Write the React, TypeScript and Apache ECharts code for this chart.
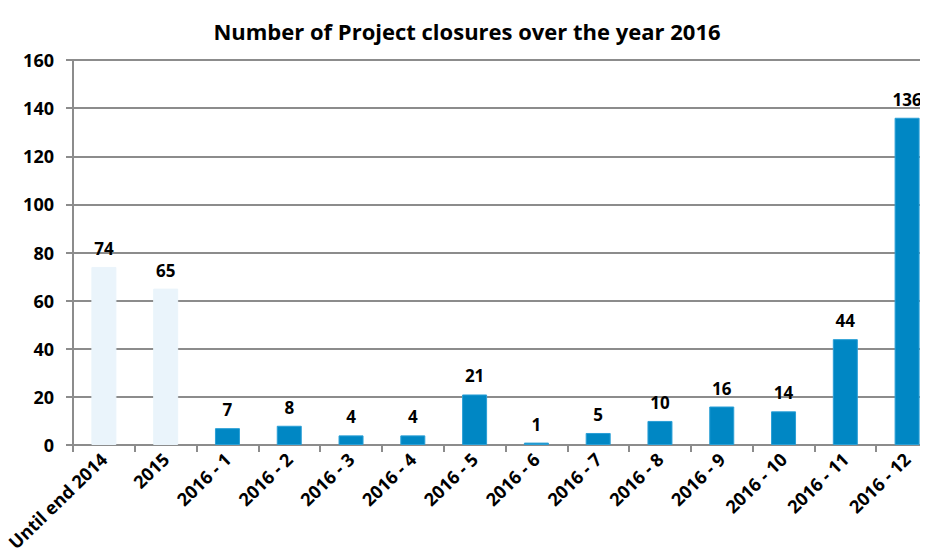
import React, { useEffect, useRef } from "react";
import * as echarts from "echarts";

const categories = [
  "Until end 2014", "2015", "2016 - 1", "2016 - 2", "2016 - 3", "2016 - 4", "2016 - 5",
  "2016 - 6", "2016 - 7", "2016 - 8", "2016 - 9", "2016 - 10", "2016 - 11", "2016 - 12",
];
const closures = [74, 65, 7, 8, 4, 4, 21, 1, 5, 10, 16, 14, 44, 136];
const lightCount = 2;
const titleText = "Number of Project closures over the year 2016";

export default function App() {
  const ref = useRef<HTMLDivElement>(null);
  useEffect(() => {
    if (!ref.current) return;
    const chart = echarts.init(ref.current, null, { renderer: "svg" });
    const font = "'Open Sans', Lato, sans-serif";
    chart.setOption({
      animation: false,
      backgroundColor: "#ffffff",
      title: {
        text: titleText,
        left: 462,
        textAlign: "center",
        top: 15,
        textStyle: { fontFamily: font, fontWeight: "bold", fontSize: 22, color: "#000" },
      },
      grid: {
        left: 73,
        top: 60,
        right: -10,
        bottom: 112,
        containLabel: false,
        outerBoundsMode: "none",
      },
      xAxis: {
        type: "category",
        data: categories,
        axisLine: { lineStyle: { color: "#8c8c8c", width: 2 } },
        axisTick: { show: true, alignWithLabel: false, length: 7, lineStyle: { color: "#8c8c8c", width: 2 } },
        axisLabel: {
          interval: 0,
          rotate: 44,
          margin: 11,
          fontFamily: font,
          fontWeight: "bold",
          fontSize: 18,
          color: "#000",
        },
      },
      yAxis: {
        type: "value",
        min: 0,
        max: 160,
        interval: 20,
        axisLine: { show: true, lineStyle: { color: "#8c8c8c", width: 2 } },
        axisTick: { show: true, length: 7, lineStyle: { color: "#8c8c8c", width: 2 } },
        splitLine: { lineStyle: { color: "#8c8c8c", width: 2 } },
        axisLabel: {
          margin: 19,
          fontFamily: font,
          fontWeight: "bold",
          fontSize: 18,
          color: "#000",
        },
      },
      series: [
        {
          type: "bar",
          barWidth: 25,
          data: closures.map((v, i) => ({
            value: v,
            itemStyle: {
              color: i < lightCount ? "#eaf4fb" : "#0087c4",
              borderColor: i < lightCount ? "#eaf4fb" : "#2a9fd6",
              borderWidth: 1,
            },
          })),
          label: {
            show: true,
            position: "top",
            distance: 10,
            fontFamily: font,
            fontWeight: "bold",
            fontSize: 17,
            color: "#000",
          },
        },
      ],
    });
    return () => chart.dispose();
  }, []);
  return <div ref={ref} style={{ width: 928, height: 557, margin: -8 }} />;
}
